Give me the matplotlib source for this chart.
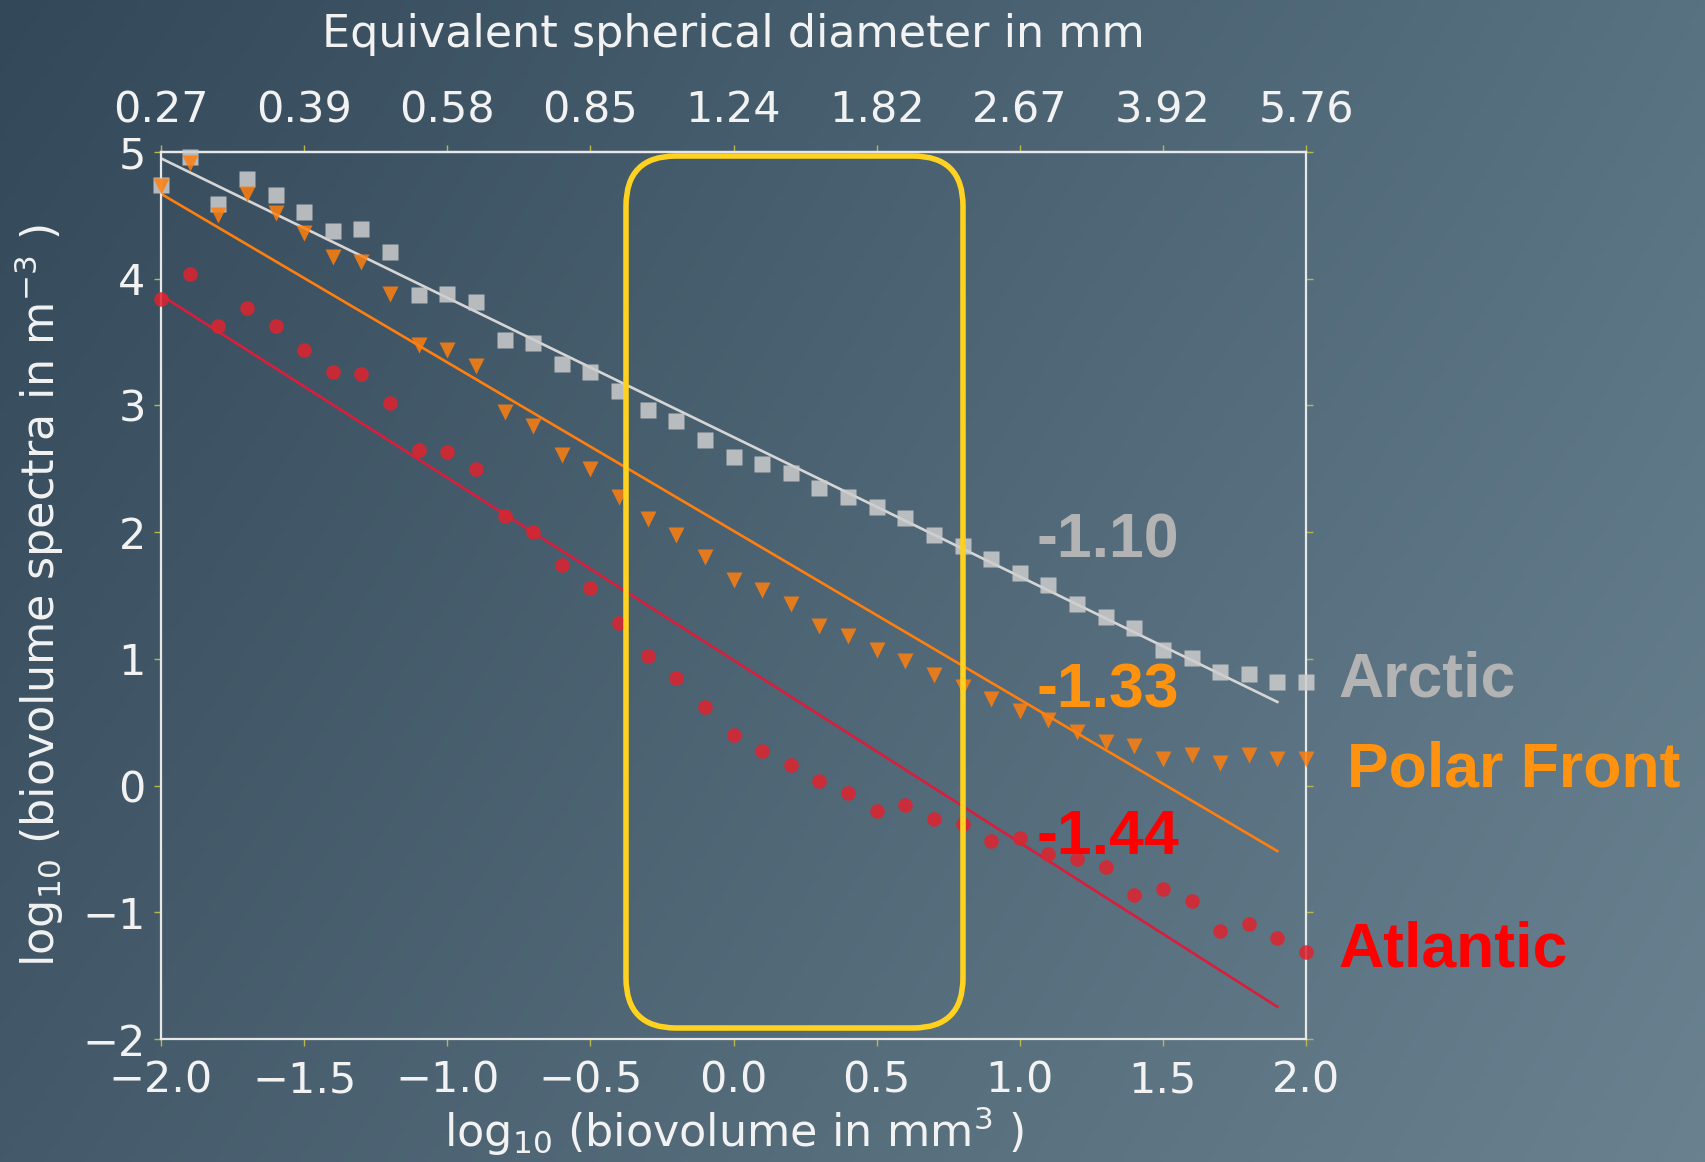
import numpy as np
import matplotlib.pyplot as plt
from matplotlib.patches import FancyBboxPatch
from matplotlib.transforms import IdentityTransform

# size classes: log10 of biovolume (mm^3)
log_biovolume = [-2.0, -1.9, -1.8, -1.7, -1.6, -1.5, -1.4, -1.3, -1.2, -1.1,
                 -1.0, -0.9, -0.8, -0.7, -0.6, -0.5, -0.4, -0.3, -0.2, -0.1,
                 0.0, 0.1, 0.2, 0.3, 0.4, 0.5, 0.6, 0.7, 0.8, 0.9,
                 1.0, 1.1, 1.2, 1.3, 1.4, 1.5, 1.6, 1.7, 1.8, 1.9, 2.0]

# log10 biovolume spectra (m^-3)
arctic = [4.74, 4.96, 4.59, 4.79, 4.66, 4.53, 4.38, 4.39, 4.21, 3.87,
          3.88, 3.82, 3.52, 3.49, 3.33, 3.26, 3.11, 2.96, 2.88, 2.73,
          2.59, 2.54, 2.47, 2.35, 2.28, 2.20, 2.11, 1.98, 1.89, 1.79,
          1.68, 1.58, 1.43, 1.33, 1.24, 1.07, 1.01, 0.90, 0.88, 0.82, 0.82]
polar_front = [4.73, 4.91, 4.50, 4.67, 4.52, 4.36, 4.17, 4.13, 3.88, 3.48,
               3.44, 3.31, 2.95, 2.84, 2.61, 2.50, 2.28, 2.10, 1.98, 1.80,
               1.62, 1.54, 1.43, 1.26, 1.18, 1.07, 0.98, 0.87, 0.78, 0.68,
               0.59, 0.52, 0.42, 0.34, 0.31, 0.21, 0.24, 0.18, 0.24, 0.21, 0.21]
atlantic = [3.84, 4.04, 3.63, 3.77, 3.63, 3.44, 3.26, 3.25, 3.02, 2.65,
            2.63, 2.50, 2.13, 2.00, 1.74, 1.56, 1.28, 1.02, 0.85, 0.62,
            0.40, 0.27, 0.16, 0.04, -0.06, -0.20, -0.15, -0.26, -0.30, -0.44,
            -0.41, -0.54, -0.58, -0.64, -0.86, -0.82, -0.91, -1.15, -1.09, -1.20, -1.31]

# linear fits (slope, intercept) and the x range they cover
fit_x = [-2.0, 1.9]
slopes = {"Arctic": -1.10, "Polar Front": -1.33, "Atlantic": -1.44}
intercepts = {"Arctic": 2.75, "Polar Front": 2.01, "Atlantic": 0.99}

x_ticks = [-2.0, -1.5, -1.0, -0.5, 0.0, 0.5, 1.0, 1.5, 2.0]
esd_labels = ["0.27", "0.39", "0.58", "0.85", "1.24", "1.82", "2.67", "3.92", "5.76"]
y_ticks = [5, 4, 3, 2, 1, 0, -1, -2]

W, H = 1706, 1162
fig = plt.figure(figsize=(W / 100, H / 100), dpi=100)

# gradient background
bg = fig.add_axes([0, 0, 1, 1], zorder=-10)
gx = np.linspace(0, 1, 340)[None, :, None]
gy = np.linspace(0, 1, 240)[:, None, None]
tl = np.array([0x33, 0x48, 0x58]) / 255
tr = np.array([0x58, 0x72, 0x82]) / 255
bl = np.array([0x44, 0x5a, 0x6a]) / 255
br = np.array([0x6a, 0x82, 0x90]) / 255
img = (1 - gx) * (1 - gy) * tl + gx * (1 - gy) * tr + (1 - gx) * gy * bl + gx * gy * br
bg.imshow(img, aspect="auto", extent=[0, 1, 0, 1], origin="upper")
bg.axis("off")

ax = fig.add_axes([161 / W, 1 - 1039 / H, (1306 - 161) / W, (1039 - 152) / H])
ax.set_facecolor("none")

series = [
    ("Arctic", arctic, "s", "#cdcdcd", "#d6d6d6", 11.5),
    ("Polar Front", polar_front, "v", "#ff7f0e", "#ff7f0e", 11.5),
    ("Atlantic", atlantic, "o", "#e0232e", "#d81e3c", 10.5),
]
for name, vals, mk, mcol, lcol, ms in series:
    fy = [slopes[name] * xx + intercepts[name] for xx in fit_x]
    ax.plot(fit_x, fy, color=lcol, lw=1.9, zorder=2)
    ax.plot(log_biovolume, vals, mk, color=mcol, ms=ms, mec="none", alpha=0.85,
            zorder=3, clip_on=False)

ax.set_xlim(-2, 2)
ax.set_ylim(-2, 5)
ax.set_xticks(x_ticks)
ax.set_yticks(y_ticks)

for sp in ax.spines.values():
    sp.set_color("#e8e8e8")
    sp.set_linewidth(1.6)

ax.tick_params(direction="out", length=5, width=1, color="#b8b84a",
               labelcolor="#f2f2f2", labelsize=31, right=True)
ax.tick_params(axis="x", pad=10)
ax.tick_params(axis="y", pad=6)

ax.set_xlabel("log$_{10}$ (biovolume in mm$^3$ )", fontsize=32, color="#f2f2f2", labelpad=2)
ax.set_ylabel("log$_{10}$ (biovolume spectra in m$^{-3}$ )", fontsize=32, color="#f2f2f2", labelpad=12)

sec = ax.secondary_xaxis("top")
sec.set_xticks(x_ticks, labels=esd_labels)
sec.tick_params(direction="out", length=5, width=1, color="#b8b84a",
                labelcolor="#f2f2f2", labelsize=31, pad=10)
sec.spines["top"].set_color("#e8e8e8")
sec.spines["top"].set_linewidth(1.6)
sec.set_xlabel("Equivalent spherical diameter in mm", fontsize=32, color="#f2f2f2", labelpad=30)

# slope labels and region names
slope_font = dict(fontsize=45, fontweight="bold", family="Liberation Sans")
ax.text(1.057, 1.80, "-1.10", color="#b3b3b3", va="baseline", **slope_font)
ax.text(1.057, 0.62, "-1.33", color="#ff920f", va="baseline", **slope_font)
ax.text(1.057, -0.54, "-1.44", color="#ff0000", va="baseline", **slope_font)
ax.text(2.114, 0.70, "Arctic", color="#b3b3b3", va="baseline", clip_on=False, **slope_font)
ax.text(2.144, -0.01, "Polar Front", color="#ff920f", va="baseline", clip_on=False, **slope_font)
ax.text(2.114, -1.43, "Atlantic", color="#ff0000", va="baseline", clip_on=False, **slope_font)

# highlighted size range
box = FancyBboxPatch((626, H - 1028), 963 - 626, 1028 - 156,
                     boxstyle="round,pad=0,rounding_size=50",
                     transform=IdentityTransform(), fill=False,
                     edgecolor="#ffd21f", lw=4, zorder=5)
fig.patches.append(box)

fig.savefig("out.png", dpi=100)
